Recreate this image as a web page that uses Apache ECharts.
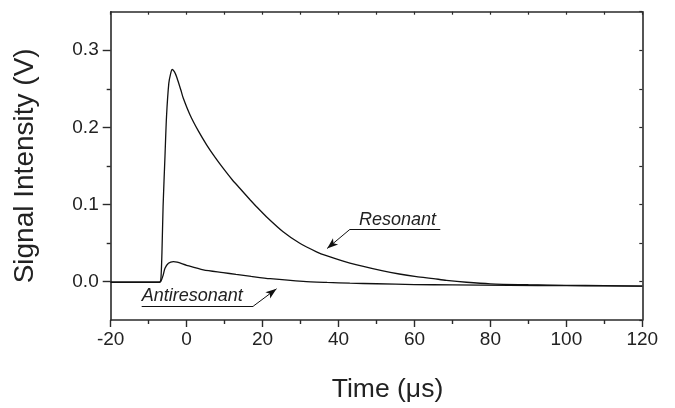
<!DOCTYPE html>
<html>
<head>
<meta charset="utf-8">
<script src="https://cdn.jsdelivr.net/npm/echarts@6/dist/echarts.min.js"></script>
<style>
html,body{margin:0;padding:0;background:#fff;}
#chart{width:675px;height:408px;}
</style>
</head>
<body>
<div id="chart"></div>
<script>
// ---- data ----
const xTicks = [-20, 0, 20, 40, 60, 80, 100, 120];
const yTickLabels = [0.0, 0.1, 0.2, 0.3];
const yMinorTicks = [0.05, 0.15, 0.25];

const resonantX = [-20, -15, -10, -7.2, -6.8, -6.5, -6.2, -5.7, -5.3, -4.7, -4.2, -3.8, -3.2, -2.6, -1.5, -0.9, 0.9, 3, 5.3, 7.5, 9.6, 12, 14, 16.7, 18.4, 21, 25.4, 29.8, 34.2, 36.8, 43, 51.7, 56, 60.5, 65, 68.4, 73.7, 80, 90, 100, 110, 120];
const resonantY = [-0.001, -0.001, -0.001, -0.001, 0.002, 0.038, 0.098, 0.163, 0.214, 0.257, 0.270, 0.275, 0.272, 0.265, 0.248, 0.238, 0.216, 0.196, 0.177, 0.161, 0.147, 0.132, 0.121, 0.106, 0.097, 0.084, 0.0645, 0.0495, 0.0385, 0.0335, 0.0238, 0.0137, 0.0097, 0.0064, 0.0037, 0.0015, -0.001, -0.003, -0.0042, -0.005, -0.0055, -0.006];

const antiX = [-20, -15, -10, -7.2, -6.8, -6.2, -5.7, -4.8, -3.5, -2.5, 0, 4.4, 9.6, 13, 17, 22, 30.7, 37, 43, 50, 60, 70, 85, 100, 120];
const antiY = [-0.001, -0.001, -0.001, -0.001, 0.0, 0.008, 0.017, 0.0235, 0.0257, 0.025, 0.021, 0.015, 0.0115, 0.0092, 0.0066, 0.0036, 0.0, -0.0013, -0.0022, -0.003, -0.004, -0.0045, -0.005, -0.0055, -0.006];

const labelResonant = 'Resonant';
const labelAnti = 'Antiresonant';
// annotation anchors (data coordinates)
const resText = [45.4, 0.0794];
const resUnderline = [[43, 0.0676], [66.8, 0.0676]];
const resArrow = [[43, 0.0676], [37.0, 0.0428]];
const antiText = [-11.84, -0.0193];
const antiUnderline = [[-11.84, -0.0321], [17.53, -0.0321]];
const antiArrow = [[17.53, -0.0321], [23.68, -0.0095]];

const resonant = resonantX.map((x, i) => [x, resonantY[i]]);
const anti = antiX.map((x, i) => [x, antiY[i]]);

const FONT = '"Liberation Sans", Arial, Helvetica, sans-serif';
const AX = '#2a2a2a';
const LINE = '#111';

const chart = echarts.init(document.getElementById('chart'), null, {renderer: 'canvas'});

function segs(u, a) {
  return [
    [{coord: u[0], symbol: 'none'}, {coord: u[1], symbol: 'none'}],
    [{coord: a[0], symbol: 'none'}, {coord: a[1], symbol: 'arrow', symbolSize: [6, 11]}]
  ];
}

const option = {
  animation: false,
  backgroundColor: '#fff',
  grid: {left: 110.7, right: 32.7, top: 11.7, bottom: 86.3, containLabel: false},
  xAxis: [
    {
      type: 'value', position: 'bottom', min: -20, max: 120, interval: 20,
      axisLine: {show: true, onZero: false, lineStyle: {color: AX, width: 1.6}},
      axisTick: {show: true, inside: false, length: 7, lineStyle: {color: AX, width: 1.4}},
      minorTick: {show: true, splitNumber: 2, length: 4, lineStyle: {color: AX, width: 1.4}},
      splitLine: {show: false},
      axisLabel: {fontSize: 19, color: '#222', fontFamily: FONT, margin: 10},
      name: 'Time (μs)', nameLocation: 'middle', nameGap: 56,
      nameTextStyle: {fontSize: 26.5, color: '#222', fontFamily: FONT, padding: [0, 0, 0, 22]}
    },
    {
      type: 'value', position: 'top', min: -20, max: 120, interval: 10,
      axisLine: {show: true, onZero: false, lineStyle: {color: AX, width: 1.6}},
      axisTick: {show: true, inside: true, length: 3, lineStyle: {color: AX, width: 1.2}},
      axisLabel: {show: false}, splitLine: {show: false}
    }
  ],
  yAxis: [
    {
      type: 'value', position: 'left', min: -0.05, max: 0.35, interval: 0.05,
      axisLine: {show: true, onZero: false, lineStyle: {color: AX, width: 1.6}},
      axisTick: {show: true, inside: false, length: 8, customValues: yTickLabels, lineStyle: {color: AX, width: 1.4}},
      axisLabel: {customValues: yTickLabels, formatter: v => v.toFixed(1), fontSize: 19, color: '#222', fontFamily: FONT, margin: 12},
      splitLine: {show: false},
      name: 'Signal Intensity (V)', nameLocation: 'middle', nameGap: 71,
      nameTextStyle: {fontSize: 28, color: '#222', fontFamily: FONT}
    },
    {
      type: 'value', position: 'left', min: -0.05, max: 0.35, interval: 0.05,
      axisLine: {show: false, onZero: false},
      axisTick: {show: true, inside: false, length: 4, customValues: yMinorTicks, lineStyle: {color: AX, width: 1.4}},
      axisLabel: {show: false}, splitLine: {show: false}
    },
    {
      type: 'value', position: 'right', min: -0.05, max: 0.35, interval: 0.05,
      axisLine: {show: true, onZero: false, lineStyle: {color: AX, width: 1.6}},
      axisTick: {show: true, inside: true, length: 3, lineStyle: {color: AX, width: 1.2}},
      axisLabel: {show: false}, splitLine: {show: false}
    }
  ],
  series: [
    {
      name: 'Resonant', type: 'line', xAxisIndex: 0, yAxisIndex: 0,
      data: resonant, showSymbol: false, smooth: 0.25,
      lineStyle: {color: LINE, width: 1.3},
      markLine: {
        silent: true, symbol: ['none', 'none'],
        lineStyle: {color: LINE, width: 1, type: 'solid'},
        label: {show: false}, emphasis: {disabled: true},
        data: segs(resUnderline, resArrow).concat(segs(antiUnderline, antiArrow))
      }
    },
    {
      name: 'Antiresonant', type: 'line', xAxisIndex: 0, yAxisIndex: 0,
      data: anti, showSymbol: false, smooth: 0.25,
      lineStyle: {color: LINE, width: 1.3}
    }
  ]
};
chart.setOption(option);

function px(p) { return chart.convertToPixel({xAxisIndex: 0, yAxisIndex: 0}, p); }
const rp = px(resText), ap = px(antiText);
chart.setOption({
  graphic: [
    {type: 'text', x: rp[0], y: rp[1], silent: true,
     style: {text: labelResonant, font: 'italic 18px ' + FONT, fill: '#222', align: 'left', verticalAlign: 'middle'}},
    {type: 'text', x: ap[0], y: ap[1], silent: true,
     style: {text: labelAnti, font: 'italic 18px ' + FONT, fill: '#222', align: 'left', verticalAlign: 'middle'}}
  ]
});
</script>
</body>
</html>
